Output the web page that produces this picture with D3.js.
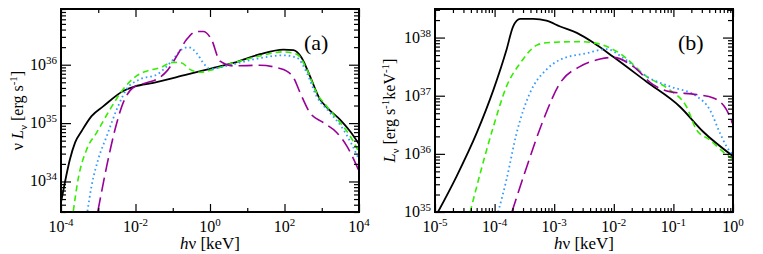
<!DOCTYPE html>
<html>
<head>
<meta charset="utf-8">
<script src="https://cdn.jsdelivr.net/npm/d3@7"></script>
<style>
  body { margin: 0; background: #fff; }
</style>
</head>
<body>
<script>
// data, stored as log10 values
// panel (a): log10(hv/keV) and log10(nu L_nu / erg s^-1)
var aBlackX = [-4, -3.89, -3.76, -3.62, -3.44, -3.18, -2.86, -2.33, -2.01, -1.52, -0.63, 0, 0.63, 1.34, 1.97, 2.24, 2.46, 2.68, 2.95, 3.18, 3.49, 3.76, 4.0];
var aBlackY = [33.64, 34.0, 34.38, 34.67, 34.87, 35.12, 35.29, 35.55, 35.63, 35.69, 35.83, 35.93, 36.03, 36.18, 36.26, 36.25, 36.12, 35.81, 35.41, 35.24, 35.06, 34.86, 34.64];
var aGreenX = [-3.67, -3.54, -3.31, -3.04, -2.68, -2.33, -1.97, -1.70, -1.34, -0.99, -0.76, -0.54, -0.27, 0.09, 0.63, 1.34, 1.97, 2.33, 2.6, 2.86, 3.13, 3.49, 3.76, 4.0];
var aGreenY = [33.49, 34.04, 34.55, 34.84, 35.24, 35.58, 35.81, 35.89, 35.95, 36.04, 36.03, 35.92, 35.87, 35.92, 36.03, 36.15, 36.22, 36.18, 35.92, 35.52, 35.29, 35.01, 34.78, 34.5];
var aBlueX = [-3.29, -3.18, -3.0, -2.77, -2.5, -2.24, -1.88, -1.43, -1.03, -0.76, -0.58, -0.36, -0.18, 0, 0.45, 1.16, 1.97, 2.33, 2.6, 2.86, 3.22, 3.58, 4.0];
var aBlueY = [33.49, 33.92, 34.38, 34.78, 35.24, 35.58, 35.75, 35.83, 36.06, 36.26, 36.30, 36.2, 36.03, 35.93, 35.98, 36.09, 36.16, 36.12, 35.86, 35.46, 35.18, 34.89, 34.38];
var aPurpleX = [-3.01, -2.77, -2.55, -2.33, -2.06, -1.70, -1.43, -1.16, -0.89, -0.63, -0.36, -0.18, 0.04, 0.27, 0.63, 1.34, 1.79, 2.06, 2.24, 2.42, 2.68, 3.04, 3.40, 3.67, 4.0];
var aPurpleY = [33.49, 34.27, 34.89, 35.35, 35.61, 35.69, 35.75, 35.89, 36.15, 36.43, 36.57, 36.57, 36.43, 36.06, 35.98, 35.99, 35.95, 35.89, 35.78, 35.52, 35.18, 35.01, 34.84, 34.61, 34.18];

// panel (b): log10(hv/keV) and log10(L_nu / erg s^-1 keV^-1)
var bBlackX = [-4.95, -4.64, -4.30, -4.02, -3.80, -3.69, -3.57, -3.35, -3.13, -2.90, -2.62, -2.34, -2.01, -1.45, -0.89, -0.50, 0.0];
var bBlackY = [35.0, 35.61, 36.36, 37.10, 37.79, 38.19, 38.32, 38.32, 38.29, 38.19, 38.08, 37.91, 37.67, 37.24, 36.81, 36.38, 35.96];
var bGreenX = [-4.41, -4.24, -4.02, -3.80, -3.57, -3.29, -3.13, -2.57, -2.29, -1.90, -1.45, -1.06, -0.78, -0.61, -0.39, -0.17, 0];
var bGreenY = [35.0, 35.67, 36.47, 37.16, 37.56, 37.87, 37.91, 37.93, 37.90, 37.73, 37.33, 37.10, 36.81, 36.41, 36.24, 36.04, 35.91];
var bBlueX = [-3.94, -3.80, -3.63, -3.41, -3.13, -2.90, -2.46, -2.12, -1.84, -1.45, -1.06, -0.61, -0.39, -0.22, -0.11, 0];
var bBlueY = [35.0, 35.56, 36.36, 37.04, 37.45, 37.62, 37.73, 37.80, 37.65, 37.33, 37.16, 36.99, 36.76, 36.36, 36.13, 35.98];
var bPurpleX = [-3.71, -3.46, -3.18, -2.90, -2.57, -2.23, -2.01, -1.67, -1.34, -1.06, -0.61, -0.33, -0.11, 0];
var bPurpleY = [35.0, 35.78, 36.59, 37.22, 37.50, 37.63, 37.66, 37.50, 37.19, 37.07, 37.02, 36.96, 36.76, 36.50];

// tick exponents
var aXMajor = [-4, -2, 0, 2, 4];
var aYMajor = [34, 35, 36];
var bXMajor = [-5, -4, -3, -2, -1, 0];
var bYMajor = [35, 36, 37, 38];

var styles = [
  {color: "#000000", dash: null, width: 1.8},
  {color: "#33ee00", dash: "6,4", width: 1.6},
  {color: "#3399ff", dash: "1.6,3", width: 1.8},
  {color: "#990099", dash: "14,6", width: 1.6}
];

var FONT = "'Liberation Serif', 'Times New Roman', Times, serif";

var svg = d3.select("body").append("svg")
    .attr("width", 763)
    .attr("height", 254)
    .attr("font-family", FONT);

function sup(t, s) {
  t.append("tspan").attr("dy", "-6").style("font-size", "11px").text(s);
}

function panel(opt) {
  var g = svg.append("g");
  var x = d3.scaleLog().domain(opt.xDomain).range([opt.left, opt.right]);
  var y = d3.scaleLog().domain(opt.yDomain).range([opt.bottom, opt.top]);

  var clipId = "clip" + opt.id;
  g.append("clipPath").attr("id", clipId)
    .append("rect")
      .attr("x", opt.left).attr("y", opt.top)
      .attr("width", opt.right - opt.left).attr("height", opt.bottom - opt.top);

  var line = d3.line()
    .x(function(d) { return x(d[0]); })
    .y(function(d) { return y(d[1]); })
    .curve(d3.curveMonotoneX);

  opt.series.forEach(function(s, i) {
    var pts = s[0].map(function(v, j) { return [Math.pow(10, v), Math.pow(10, s[1][j])]; });
    g.append("path")
      .datum(pts)
      .attr("clip-path", "url(#" + clipId + ")")
      .attr("fill", "none")
      .attr("stroke", styles[i].color)
      .attr("stroke-width", styles[i].width)
      .attr("stroke-dasharray", styles[i].dash)
      .attr("d", line);
  });

  // minor tick values
  function minors(domain, decadesOnly) {
    var out = [];
    var lo = Math.floor(Math.log10(domain[0])), hi = Math.ceil(Math.log10(domain[1]));
    for (var e = lo; e <= hi; e++) {
      if (decadesOnly) { out.push(Math.pow(10, e)); continue; }
      for (var m = 2; m <= 9; m++) out.push(m * Math.pow(10, e));
    }
    return out.filter(function(v) { return v >= domain[0] * 0.999 && v <= domain[1] * 1.001; });
  }

  var xMaj = opt.xMajor.map(function(e) { return Math.pow(10, e); });
  var yMaj = opt.yMajor.map(function(e) { return Math.pow(10, e); });
  var xMin = opt.xMinorDecades
    ? minors(opt.xDomain, true).filter(function(v) { return opt.xMajor.indexOf(Math.round(Math.log10(v))) < 0; })
    : minors(opt.xDomain, false);
  var yMin = minors(opt.yDomain, false);

  function tickAxis(axisFn, scale, vals, len, transform) {
    g.append("g")
      .attr("transform", transform)
      .call(axisFn(scale).tickValues(vals).tickSize(len).tickFormat(""))
      .call(function(a) { a.select(".domain").remove(); a.selectAll("line").attr("stroke", "#000").attr("stroke-width", 1.2); });
  }
  var w = opt.right - opt.left, h = opt.bottom - opt.top;
  // inward ticks on all four sides
  tickAxis(d3.axisTop, x, xMaj, 8, "translate(0," + opt.bottom + ")");
  tickAxis(d3.axisTop, x, xMin, 4, "translate(0," + opt.bottom + ")");
  tickAxis(d3.axisBottom, x, xMaj, 8, "translate(0," + opt.top + ")");
  tickAxis(d3.axisBottom, x, xMin, 4, "translate(0," + opt.top + ")");
  tickAxis(d3.axisRight, y, yMaj, 10, "translate(" + opt.left + ",0)");
  tickAxis(d3.axisRight, y, yMin, 5, "translate(" + opt.left + ",0)");
  tickAxis(d3.axisLeft, y, yMaj, 10, "translate(" + opt.right + ",0)");
  tickAxis(d3.axisLeft, y, yMin, 5, "translate(" + opt.right + ",0)");

  g.append("rect")
    .attr("x", opt.left).attr("y", opt.top)
    .attr("width", w).attr("height", h)
    .attr("fill", "none").attr("stroke", "#000").attr("stroke-width", 2);

  // tick labels: 10 with superscript exponent
  opt.xMajor.forEach(function(e) {
    var t = g.append("text")
      .attr("x", x(Math.pow(10, e)))
      .attr("y", opt.bottom + 20)
      .attr("text-anchor", "middle")
      .style("font-size", "16px");
    t.append("tspan").text("10");
    sup(t, e);
  });
  opt.yMajor.forEach(function(e) {
    var t = g.append("text")
      .attr("x", opt.left - 4)
      .attr("y", y(Math.pow(10, e)) + 5)
      .attr("text-anchor", "end")
      .style("font-size", "16px");
    t.append("tspan").text("10");
    sup(t, e);
  });

  // panel tag
  g.append("text")
    .attr("x", opt.right - 55).attr("y", 50)
    .style("font-size", "22px")
    .text(opt.tag);

  // x title
  var xt = g.append("text")
    .attr("x", (opt.left + opt.right) / 2)
    .attr("y", 249)
    .attr("text-anchor", "middle")
    .style("font-size", "17px");
  xt.append("tspan").style("font-style", "italic").text("h");
  xt.append("tspan").text("\u03bd [keV]");

  // y title
  var yt = g.append("text")
    .attr("transform", "translate(" + opt.yTitleX + "," + ((opt.top + opt.bottom) / 2) + ") rotate(-90)")
    .attr("text-anchor", "middle")
    .style("font-size", "16px");
  opt.yTitle(yt);
}

panel({
  id: "a", tag: "(a)",
  left: 61, right: 359, top: 9, bottom: 212,
  xDomain: [1e-4, 1e4], yDomain: [3e33, 9e36],
  xMajor: aXMajor, yMajor: aYMajor, xMinorDecades: true,
  yTitleX: 23,
  series: [[aBlackX, aBlackY], [aGreenX, aGreenY], [aBlueX, aBlueY], [aPurpleX, aPurpleY]],
  yTitle: function(t) {
    t.append("tspan").text("\u03bd ");
    t.append("tspan").style("font-style", "italic").text("L");
    t.append("tspan").attr("dy", "4").style("font-size", "11px").text("\u03bd");
    t.append("tspan").attr("dy", "-4").text("  [erg s");
    sup(t, "-1");
    t.append("tspan").attr("dy", "6").text("]");
  }
});

panel({
  id: "b", tag: "(b)",
  left: 435, right: 733, top: 9, bottom: 212,
  xDomain: [1e-5, 1], yDomain: [1e35, 3.1e38],
  xMajor: bXMajor, yMajor: bYMajor, xMinorDecades: false,
  yTitleX: 395,
  series: [[bBlackX, bBlackY], [bGreenX, bGreenY], [bBlueX, bBlueY], [bPurpleX, bPurpleY]],
  yTitle: function(t) {
    t.append("tspan").style("font-style", "italic").text("L");
    t.append("tspan").attr("dy", "4").style("font-size", "11px").text("\u03bd");
    t.append("tspan").attr("dy", "-4").text("  [erg s");
    sup(t, "-1");
    t.append("tspan").attr("dy", "6").text("keV");
    sup(t, "-1");
    t.append("tspan").attr("dy", "6").text("]");
  }
});
</script>
</body>
</html>
